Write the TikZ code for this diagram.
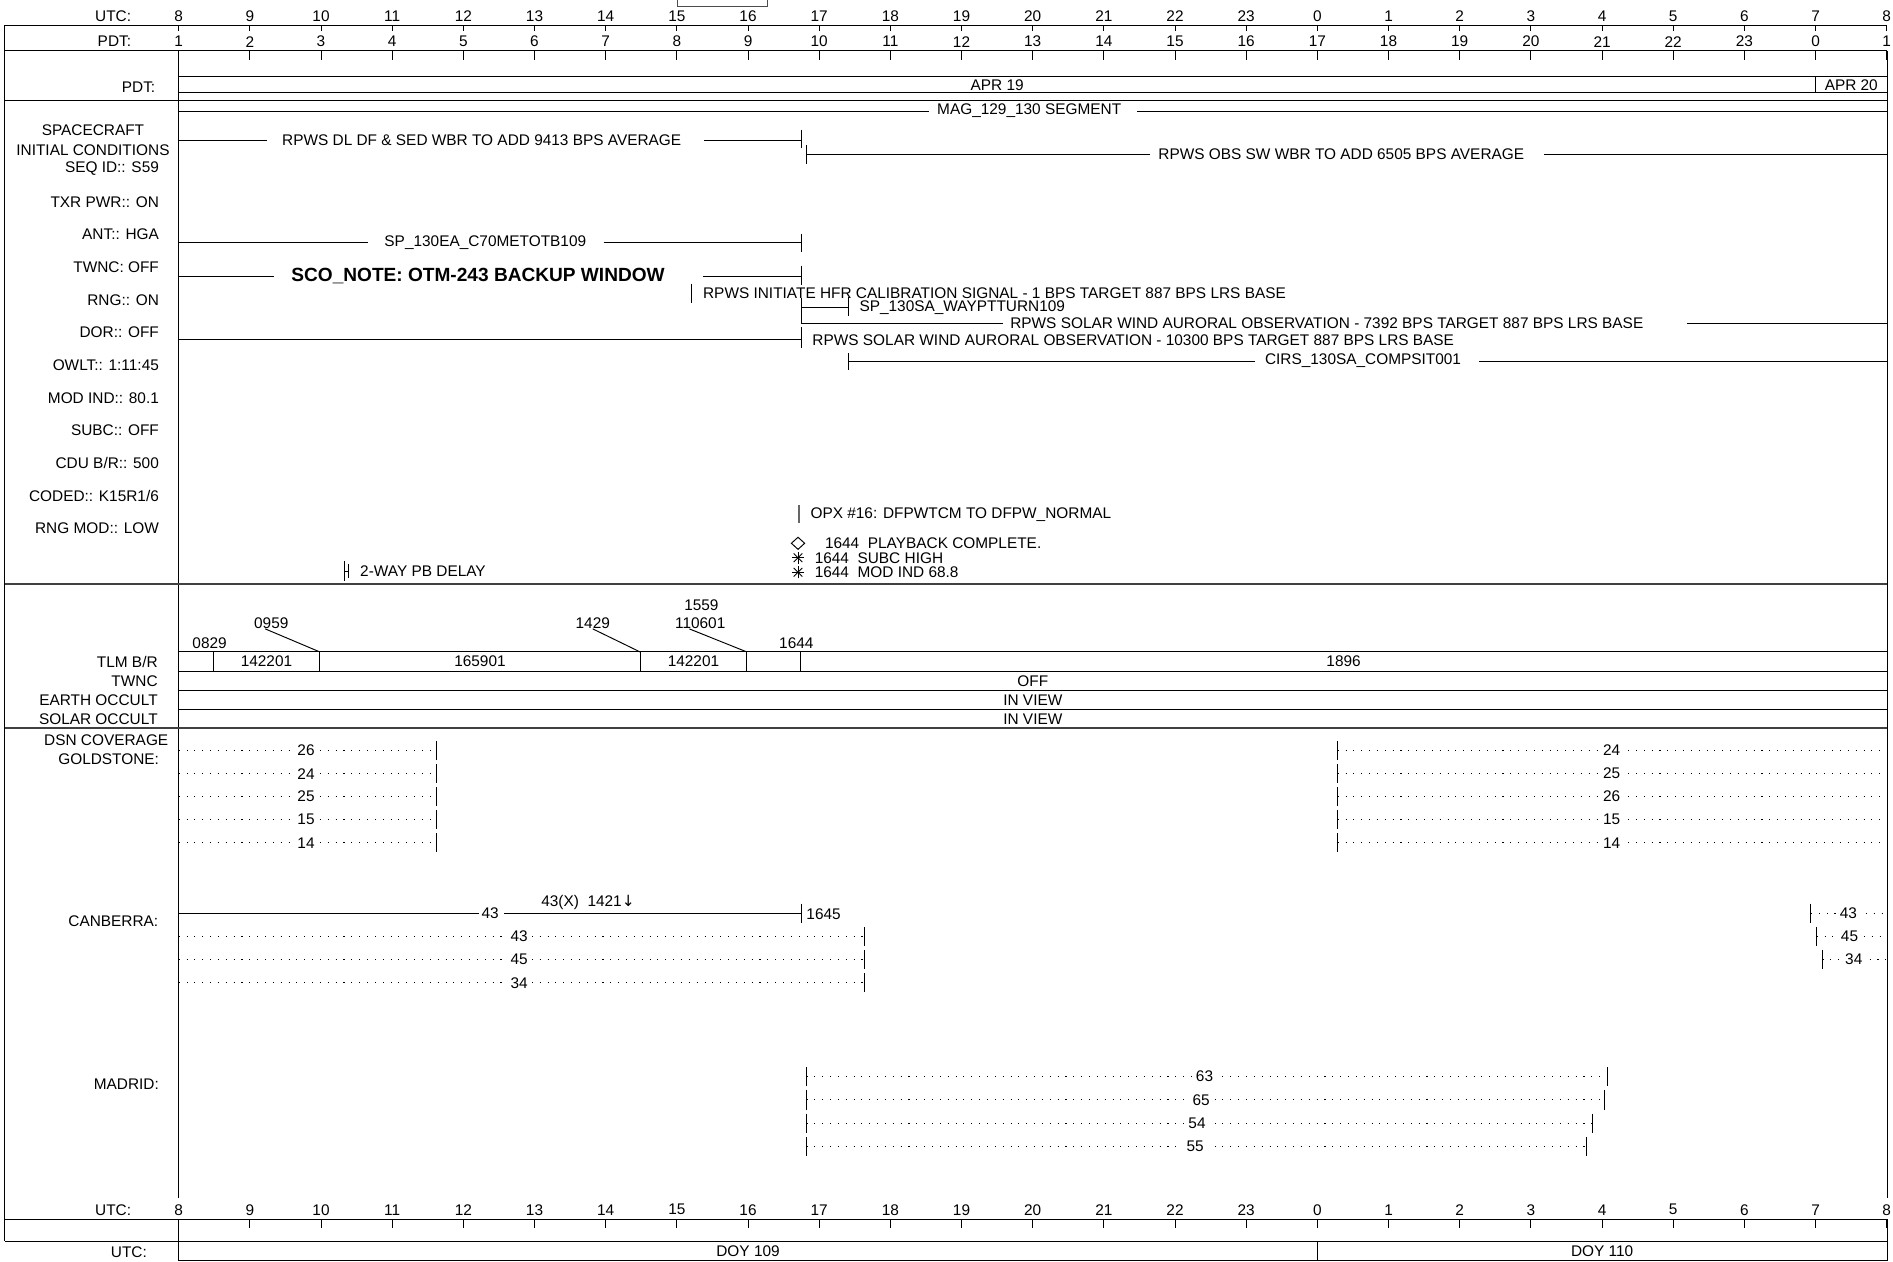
\documentclass[tikz,border=0pt]{standalone}
\usepackage{fontspec}
\setmainfont{Liberation Sans}
\newfontfamily\symfnt{DejaVu Sans}

\tikzset{
  every node/.style={font=\fontsize{7.26}{8.5}\selectfont, inner sep=0pt},
  rowlbl/.style={anchor=east},
  bartxt/.style={fill=white, inner xsep=2pt, inner ysep=1pt},
  dotln/.style={dash pattern=on 0.5pt off 3.2pt},
  sepln/.style={line width=1pt, black!75},
}

\begin{document}
\begin{tikzpicture}[x=0.02cm, y=-0.02cm, line width=0.45pt,
  declare function={hx(\h)=148+58.95*(\h-8);}]
  \useasboundingbox (0,0) rectangle (1568,1045.3);

  % time scales, top and bottom
  \draw[black!70] (561,-10) rectangle (636,5);
  \node[rowlbl] (utcT) at (109,13.5) {UTC:};
  \node[rowlbl] (pdtT) at (109,34.5) {PDT:};
  \node[rowlbl] (utcB) at (109,1002) {UTC:};
  \node[rowlbl] (utcD) at (122,1037) {UTC:};
  \draw (4,21) -- (1563,21);
  \draw (4,42) -- (1563,42);
  \draw (4,21) -- (4,1028);
  \draw (148,42) -- (148,992);
  \draw (1563,42) -- (1563,992);
  \foreach \h in {8,...,32} {
    \pgfmathtruncatemacro\u{mod(\h,24)}
    \pgfmathtruncatemacro\p{mod(\h+17,24)}
    \node (u\h) at ({hx(\h)},13.5) {\u};
    \node (p\h) at ({hx(\h)},34.5) {\p};
    \node (b\h) at ({hx(\h)},1002) {\u};
    \draw ({hx(\h)},21) -- ++(0,5);
    \draw ({hx(\h)},42) -- ++(0,8);
    \draw ({hx(\h)},1009.7) -- ++(0,7.3);
  }
  \draw (4,1009.7) -- (1563,1009.7);
  \draw (4,1028) -- (1563,1028);
  \draw (148,1009.7) -- (148,1028);
  \draw (1563,1009.7) -- (1563,1028);
  \draw (148,1028) rectangle (1563,1044);
  \draw ({hx(24)},1028) -- ({hx(24)},1044);
  \node (doy109) at ({(148+hx(24))/2},1036.5) {DOY 109};
  \node (doy110) at ({(hx(24)+1563)/2},1036.5) {DOY 110};

  % calendar
  \node[rowlbl] (pdtC) at (129,72) {PDT:};
  \draw (148,63) rectangle (1563,77);
  \draw ({hx(31)},63) -- ({hx(31)},77);
  \node (apr19) at ({(148+hx(31))/2},70.5) {APR 19};
  \node (apr20) at ({(hx(31)+1563)/2},70.5) {APR 20};
  \draw (4,83) -- (1563,83);

  % spacecraft activities
  \draw (148,92) -- (769.5,92) (942,92) -- (1563,92);
  \node (mag) at (852.5,92) {MAG\_129\_130 SEGMENT};

  \node (scA) at (77,108) {SPACECRAFT};
  \node (scB) at (77,124) {INITIAL CONDITIONS};
  \foreach \t [count=\k from 0] in {SEQ ID:: S59, TXR PWR:: ON, ANT:: HGA,
      TWNC: OFF, RNG:: ON, DOR:: OFF, OWLT:: 1:11:45, MOD IND:: 80.1,
      SUBC:: OFF, CDU B/R:: 500, CODED:: K15R1/6, RNG MOD:: LOW}
    \node[rowlbl] (ic\k) at (132,{140+27.07*\k}) {\t};

  \draw (148,116) -- (221,116) (583.5,116) -- ({hx(16.75)},116);
  \draw ({hx(16.75)},108) -- ({hx(16.75)},123);
  \node (dl) at (399,116) {RPWS DL DF \& SED WBR TO ADD 9413 BPS AVERAGE};

  \draw (667.8,120) -- (667.8,136);
  \draw (667.8,128) -- (952.7,128) (1279,128) -- (1563,128);
  \node (obs) at (1111,128) {RPWS OBS SW WBR TO ADD 6505 BPS AVERAGE};

  \draw (148,201) -- (305,201) (500,201) -- ({hx(16.75)},201);
  \draw ({hx(16.75)},194) -- ({hx(16.75)},209);
  \node (sp130ea) at (402,201) {SP\_130EA\_C70METOTB109};

  \draw (148,229) -- (227,229) (582,229) -- ({hx(16.75)},229);
  \draw ({hx(16.75)},220) -- ({hx(16.75)},236);
  \node[font=\bfseries\fontsize{9}{10}\selectfont] (sco) at (396,229)
    {SCO\_NOTE: OTM-243 BACKUP WINDOW};

  \draw (572.5,235) -- (572.5,250.7);
  \node[anchor=west] (hfr) at (582,243)
    {RPWS INITIATE HFR CALIBRATION SIGNAL - 1 BPS TARGET 887 BPS LRS BASE};

  \draw ({hx(16.75)},247) -- ({hx(16.75)},268);
  \draw ({hx(16.75)},255) -- (703,255);
  \draw (703,246) -- (703,262);
  \node[anchor=west] (waypt) at (711.6,255) {SP\_130SA\_WAYPTTURN109};

  \draw ({hx(16.75)},268) -- (830.5,268) (1397,268) -- (1563,268);
  \node (sw7392) at (1099,267.5)
    {RPWS SOLAR WIND AURORAL OBSERVATION - 7392 BPS TARGET 887 BPS LRS BASE};

  \draw (148,281) -- ({hx(16.75)},281);
  \draw ({hx(16.75)},271) -- ({hx(16.75)},288);
  \node[anchor=west] (sw10300) at (672.6,281.5)
    {RPWS SOLAR WIND AURORAL OBSERVATION - 10300 BPS TARGET 887 BPS LRS BASE};

  \draw (703,292.5) -- (703,306.5);
  \draw (703,299) -- (1039.6,299) (1225,299) -- (1563,299);
  \node (cirs) at (1129,299) {CIRS\_130SA\_COMPSIT001};

  \draw[line width=1.2pt, black!60] (662,418.5) -- (662,433);
  \node[anchor=west] (opx) at (671,426) {OPX \#16: DFPWTCM TO DFPW\_NORMAL};

  \draw (661,450) +(0,-5) -- +(5.5,0) -- +(0,5) -- +(-5.5,0) -- cycle;
  \node[anchor=west] (pbc) at (683,450) {1644\ \ PLAYBACK COMPLETE.};
  \foreach \yy in {462,474}
    \foreach \a in {0,45,90,135}
      \draw (661,\yy) ++(\a:5) -- ++(\a+180:10);
  \node[anchor=west] (subc) at (674.5,462) {1644\ \ SUBC HIGH};
  \node[anchor=west] (modind) at (674.5,474) {1644\ \ MOD IND 68.8};

  \draw (285.5,465) -- (285.5,481) (289,467) -- (289,479) (285.5,473) -- (289,473);
  \node[anchor=west] (pbdelay) at (298,473) {2-WAY PB DELAY};

  \draw[sepln] (4,484) -- (1563,484);

  % telemetry rates
  \node (t0829) at (173.6,533) {0829};
  \node (t0959) at (224.7,516) {0959};
  \node (t1429) at (491,516) {1429};
  \node (t1559) at (581,501) {1559};
  \node (t110601) at (580,516) {110601};
  \node (t1644) at (659.6,533) {1644};
  \draw ([xshift=-0.1cm]t0959.south) -- ({hx(9.9833)},540);
  \draw (t1429.south) -- ({hx(14.4833)},540);
  \draw ([xshift=-0.18cm]t110601.south) -- ({hx(15.9833)},540);

  \draw (148,540) rectangle (1563,556);
  \foreach \m in {8.4833,9.9833,14.4833,15.9833,16.7333}
    \draw ({hx(\m)},540) -- ({hx(\m)},556);
  \node (r1) at ({(hx(8.4833)+hx(9.9833))/2},548) {142201};
  \node (r2) at ({(hx(9.9833)+hx(14.4833))/2},548) {165901};
  \node (r3) at ({(hx(14.4833)+hx(15.9833))/2},548) {142201};
  \node (r4) at ({(hx(16.7333)+1563)/2},548) {1896};
  \draw (148,572) -- (1563,572);
  \draw (148,588) -- (1563,588);
  \node (twnc) at (855.5,564) {OFF};
  \node (eocc) at (855.5,580) {IN VIEW};
  \node (socc) at (855.5,596) {IN VIEW};
  \node[rowlbl] (lTlm) at (131,548) {TLM B/R};
  \node[rowlbl] (lTwnc) at (131,564) {TWNC};
  \node[rowlbl] (lEocc) at (131,580) {EARTH OCCULT};
  \node[rowlbl] (lSocc) at (131,596) {SOLAR OCCULT};

  \draw[sepln] (4,603) -- (1563,603);

  % DSN coverage
  \node (dsn) at (88,613.5) {DSN COVERAGE};
  \node (gds) at (90,629) {GOLDSTONE:};
  \node[rowlbl] (cbr) at (131.5,763.4) {CANBERRA:};
  \node[rowlbl] (mdr) at (132,898) {MADRID:};

  \foreach \s [count=\k from 0] in {26,24,25,15,14} {
    \pgfmathsetmacro\yy{621.7+19.1*\k}
    \draw[dotln] (148,\yy) -- (361.3,\yy);
    \draw (361.3,\yy) ++(0,-8) -- ++(0,16);
    \node[bartxt] (gl\k) at (253.5,\yy) {\s};
  }
  \foreach \s [count=\k from 0] in {24,25,26,15,14} {
    \pgfmathsetmacro\yy{621.7+19.1*\k}
    \draw[dotln] (1108,\yy) -- (1563,\yy);
    \draw (1108,\yy) ++(0,-8) -- ++(0,16);
    \node[bartxt] (gr\k) at (1335,\yy) {\s};
  }

  \draw (148,756.5) -- (396.5,756.5) (417.7,756.5) -- ({hx(16.75)},756.5);
  \draw ({hx(16.75)},748.5) -- ({hx(16.75)},764.5);
  \node (c43) at (406,756.5) {43};
  \node[anchor=west] (c1645) at (667.6,757) {1645};
  \node[anchor=west] (c43x) at (448,747.5) {43(X)\ \ 1421{\symfnt ↓}};
  \foreach \s [count=\k from 0] in {43,45,34} {
    \pgfmathsetmacro\yy{775.8+19.1*\k}
    \draw[dotln] (148,\yy) -- (716,\yy);
    \draw (716,\yy) ++(0,-8) -- ++(0,16);
    \node[bartxt] (cl\k) at (430,\yy) {\s};
  }
  \foreach \s/\xt/\xl [count=\k from 0] in {43/1500/1531,45/1504.8/1532,34/1509.6/1535.5} {
    \pgfmathsetmacro\yy{756.5+19.1*\k}
    \draw[dotln] (\xt,\yy) -- (1563,\yy);
    \draw (\xt,\yy) ++(0,-8) -- ++(0,16);
    \node[bartxt] (cr\k) at (\xl,\yy) {\s};
  }

  \foreach \s/\xe/\xl [count=\k from 0] in {63/1331.5/997.7,65/1329/995,54/1319/991.5,55/1314/990} {
    \pgfmathsetmacro\yy{891.8+19.3*\k}
    \draw[dotln] (668,\yy) -- (\xe,\yy);
    \draw (668,\yy) ++(0,-8) -- ++(0,16);
    \draw (\xe,\yy) ++(0,-8) -- ++(0,16);
    \node[bartxt] (md\k) at (\xl,\yy) {\s};
  }
\end{tikzpicture}
\end{document}
